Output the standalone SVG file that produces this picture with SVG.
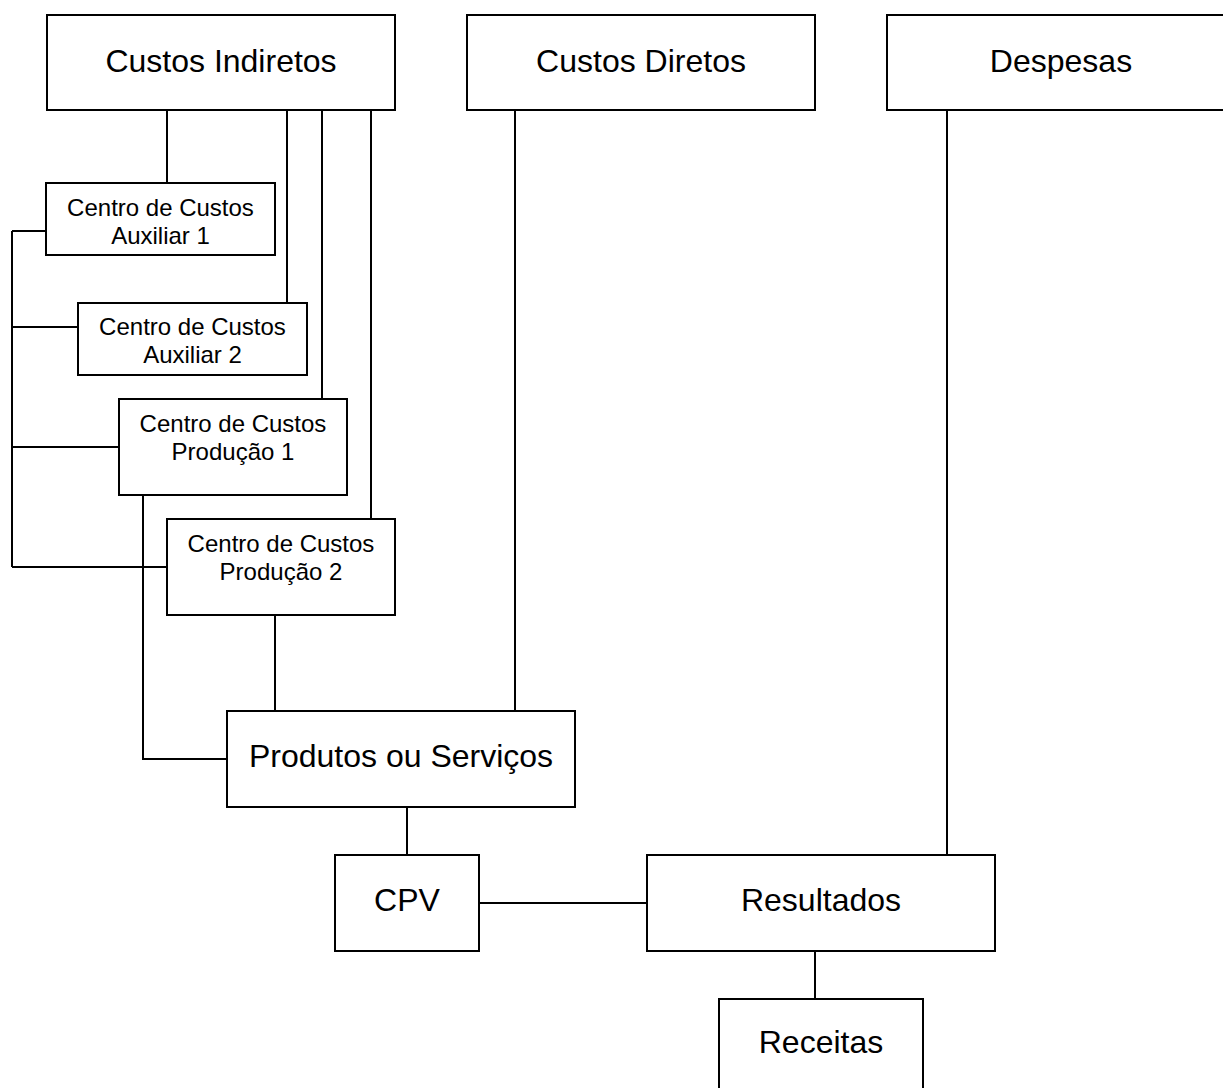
<svg xmlns="http://www.w3.org/2000/svg" width="1223" height="1088" viewBox="0 0 1223 1088">
<style>
.box{fill:#fff;stroke:#000;stroke-width:2}
.ln{fill:none;stroke:#000;stroke-width:2}
text{font-family:"Liberation Sans",Arial,sans-serif;fill:#000;text-anchor:middle}
.big{font-size:32px}
.sm{font-size:24px}
</style>
<rect width="1223" height="1088" fill="#fff"/>
<g id="connectors" class="ln">
<path d="M12 231 V567"/>
<path d="M12 231 H46"/>
<path d="M12 327 H78"/>
<path d="M12 447 H119"/>
<path d="M12 567 H167"/>
<path d="M167 110 V183"/>
<path d="M287 110 V303"/>
<path d="M322 110 V399"/>
<path d="M371 110 V519"/>
<path d="M143 495 V759 H227"/>
<path d="M275 615 V711"/>
<path d="M515 110 V711"/>
<path d="M947 110 V855"/>
<path d="M407 807 V855"/>
<path d="M479 903 H647"/>
<path d="M815 951 V999"/>
</g>
<g id="custos-indiretos"><rect class="box" x="47" y="15" width="348" height="95"/><text class="big" x="221" y="72">Custos Indiretos</text></g>
<g id="custos-diretos"><rect class="box" x="467" y="15" width="348" height="95"/><text class="big" x="641" y="72">Custos Diretos</text></g>
<g id="despesas"><rect class="box" x="887" y="15" width="348" height="95"/><text class="big" x="1061" y="72">Despesas</text></g>
<g id="aux1"><rect class="box" x="46" y="183" width="229" height="72"/><text class="sm" x="160.5" y="216">Centro de Custos</text><text class="sm" x="160.5" y="244">Auxiliar 1</text></g>
<g id="aux2"><rect class="box" x="78" y="303" width="229" height="72"/><text class="sm" x="192.5" y="335">Centro de Custos</text><text class="sm" x="192.5" y="363">Auxiliar 2</text></g>
<g id="prod1"><rect class="box" x="119" y="399" width="228" height="96"/><text class="sm" x="233" y="432">Centro de Custos</text><text class="sm" x="233" y="460">Produção 1</text></g>
<g id="prod2"><rect class="box" x="167" y="519" width="228" height="96"/><text class="sm" x="281" y="552">Centro de Custos</text><text class="sm" x="281" y="580">Produção 2</text></g>
<g id="produtos"><rect class="box" x="227" y="711" width="348" height="96"/><text class="big" x="401" y="767">Produtos ou Serviços</text></g>
<g id="cpv"><rect class="box" x="335" y="855" width="144" height="96"/><text class="big" x="407" y="911">CPV</text></g>
<g id="resultados"><rect class="box" x="647" y="855" width="348" height="96"/><text class="big" x="821" y="911">Resultados</text></g>
<g id="receitas"><rect class="box" x="719" y="999" width="204" height="96"/><text class="big" x="821" y="1053">Receitas</text></g>
</svg>
